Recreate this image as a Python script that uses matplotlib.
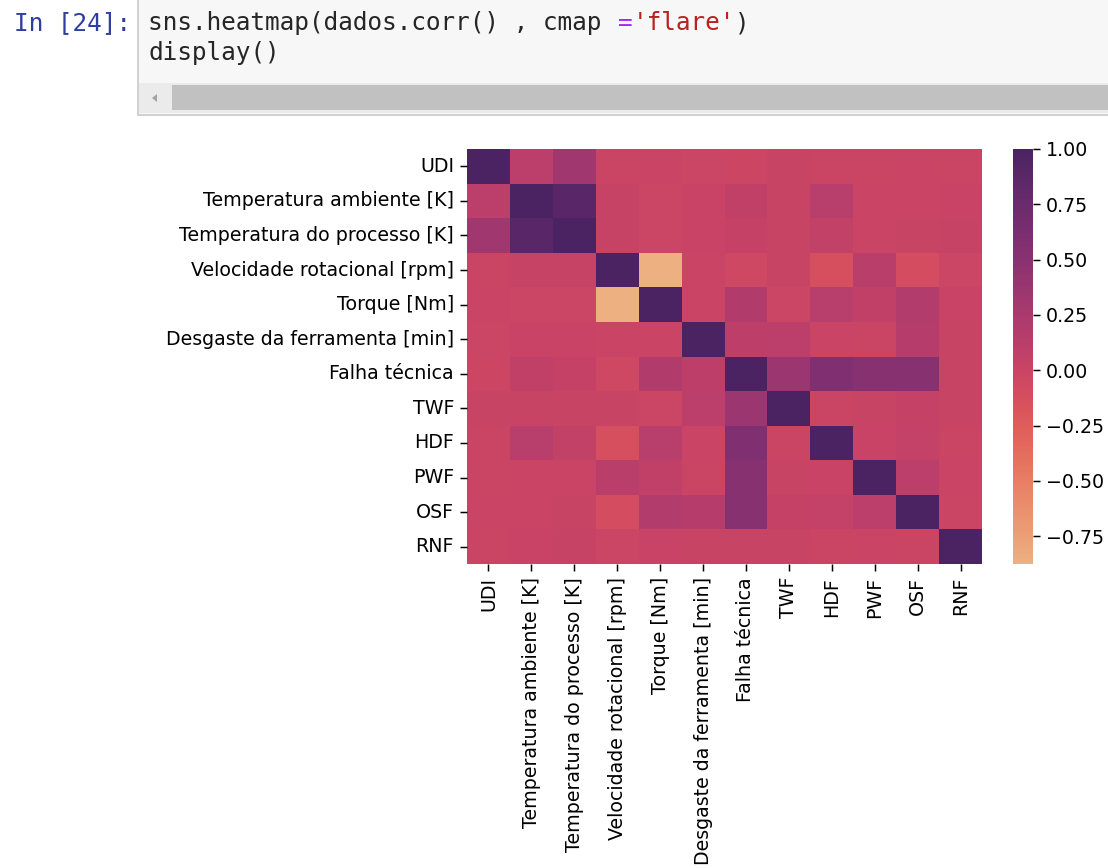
import matplotlib
matplotlib.use("Agg")
import matplotlib.pyplot as plt
from matplotlib.patches import Rectangle, Polygon
import numpy as np
import pandas as pd
import seaborn as sns

# colunas do dataset de manutenção preditiva
colunas = ["UDI", "Temperatura ambiente [K]", "Temperatura do processo [K]",
           "Velocidade rotacional [rpm]", "Torque [Nm]",
           "Desgaste da ferramenta [min]", "Falha técnica",
           "TWF", "HDF", "PWF", "OSF", "RNF"]

# triângulo superior da matriz de correlação (a partir da diagonal)
corr_udi = [1.0, 0.117, 0.324, -0.007, 0.003, -0.011, -0.023, 0.010, -0.005, -0.004, -0.003, -0.010]
corr_tamb = [1.0, 0.876, 0.023, -0.014, 0.014, 0.083, 0.010, 0.138, 0.003, 0.002, 0.017]
corr_tproc = [1.0, 0.019, -0.014, 0.013, 0.036, 0.007, 0.056, -0.003, 0.004, 0.022]
corr_vel = [1.0, -0.875, 0.000, -0.044, 0.011, -0.121, 0.123, -0.105, -0.013]
corr_torque = [1.0, -0.003, 0.191, -0.014, 0.143, 0.084, 0.184, 0.017]
corr_desg = [1.0, 0.105, 0.116, -0.001, -0.009, 0.155, 0.011]
corr_falha = [1.0, 0.363, 0.576, 0.523, 0.531, 0.005]
corr_twf = [1.0, -0.007, 0.009, 0.039, 0.009]
corr_hdf = [1.0, 0.018, 0.046, -0.005]
corr_pwf = [1.0, 0.115, -0.003]
corr_osf = [1.0, -0.004]
corr_rnf = [1.0]

linhas = [corr_udi, corr_tamb, corr_tproc, corr_vel, corr_torque, corr_desg,
          corr_falha, corr_twf, corr_hdf, corr_pwf, corr_osf, corr_rnf]

n = len(colunas)
m = np.zeros((n, n))
for i, linha in enumerate(linhas):
    m[i, i:] = linha
m = m + m.T - np.diag(np.diag(m))
corr = pd.DataFrame(m, index=colunas, columns=colunas)

W, H = 1108, 868
DPI = 134
fig = plt.figure(figsize=(W / DPI, H / DPI), dpi=DPI)

# camada de fundo em pixels para a célula do notebook
bg = fig.add_axes([0, 0, 1, 1])
bg.set_xlim(0, W)
bg.set_ylim(H, 0)
bg.axis("off")

bg.add_patch(Rectangle((138, -5), 1000, 120, facecolor="#f7f7f7",
                       edgecolor="#cfcfcf", lw=1.0))
bg.add_patch(Rectangle((139, 83), 980, 30, facecolor="#ebebeb", edgecolor="none"))
bg.add_patch(Rectangle((172, 85), 950, 25, facecolor="#c1c1c1", edgecolor="none"))
bg.add_patch(Polygon([[152, 98], [157, 94], [157, 102]], closed=True,
                     facecolor="#a3a3a3", edgecolor="none"))

mono = "DejaVu Sans Mono"
fs = 13.1
adv = 0.602 * fs * DPI / 72
bg.text(131, 30, "In [24]:", family=mono, fontsize=fs, color="#303f9f",
        ha="right", va="baseline")

x0 = 148
partes = [("sns.heatmap(dados.corr() , cmap ", "#262626"),
          ("=", "#aa22ff"),
          ("'flare'", "#ba2121"),
          (")", "#262626")]
pos = 0
for txt, cor in partes:
    bg.text(x0 + pos * adv, 30, txt, family=mono, fontsize=fs, color=cor,
            ha="left", va="baseline")
    pos += len(txt)
bg.text(x0, 60, "display()", family=mono, fontsize=fs, color="#262626",
        ha="left", va="baseline")

# mapa de calor
ax = fig.add_axes([467 / W, 1 - 564 / H, (982 - 467) / W, (564 - 149) / H])
cax = fig.add_axes([1013 / W, 1 - 564 / H, 20 / W, (564 - 149) / H])
sns.heatmap(corr, cmap="flare", ax=ax, cbar_ax=cax)
ax.set_xticklabels(colunas, rotation=90, fontsize=10.2)
ax.set_yticklabels(colunas, rotation=0, fontsize=10.2)
cax.tick_params(labelsize=10.2)

fig.savefig("out.png", dpi=DPI)
